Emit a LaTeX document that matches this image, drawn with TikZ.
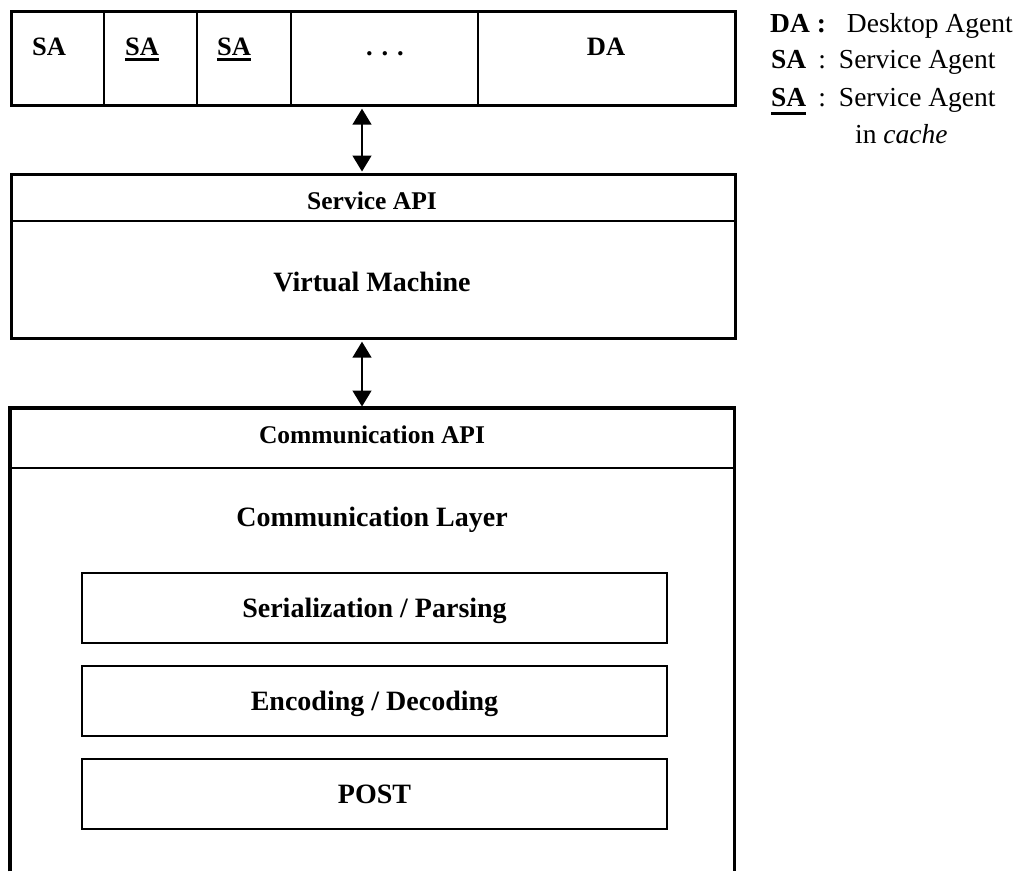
\documentclass[tikz,border=0pt]{standalone}
\usepackage{fontspec}
\setmainfont{Liberation Serif}
\usetikzlibrary{arrows.meta}
\newcommand\ulbox[3]{\setbox0\hbox{#1}\rlap{\rule[-#2]{\wd0}{#3}}\box0}
\begin{document}
\begin{tikzpicture}[x=1pt,y=-1pt,
  outerbox/.style={draw, line width=3.2pt, inner sep=0pt, anchor=north west},
  subbox/.style={draw, line width=2pt, inner sep=0pt, anchor=north west, minimum width=585pt, minimum height=70pt},
  thinline/.style={line width=1.4pt},
  dblarrow/.style={line width=1.5pt, {Triangle[length=16pt,width=19pt]}-{Triangle[length=16pt,width=19pt]}, shorten <=1.5pt, shorten >=1.5pt},
  barlabel/.style={font=\bfseries\fontsize{26.5}{30}\selectfont, inner sep=0pt},
  smalllabel/.style={font=\bfseries\fontsize{25.5}{30}\selectfont, inner sep=0pt, anchor=base},
  biglabel/.style={font=\bfseries\fontsize{28}{32}\selectfont, inner sep=0pt, anchor=base},
  sublabel/.style={font=\bfseries\fontsize{28}{32}\selectfont, text height=18.5pt, text depth=0pt},
  legend/.style={font=\fontsize{27.5}{32}\selectfont, inner sep=0pt, anchor=base west}]
\useasboundingbox (0,0) rectangle (1015,871);
\fill[white] (0,0) rectangle (1015,871);

% top bar
\node[outerbox, minimum width=724pt, minimum height=94pt] (bar) at (10,10) {};
\coordinate (d1) at (104,0);
\coordinate (d2) at (197,0);
\coordinate (d3) at (291,0);
\coordinate (d4) at (478,0);
\foreach \d in {d1,d2,d3,d4}
  \draw[thinline] (bar.north -| \d) -- (bar.south -| \d);
\node[barlabel, anchor=base west] (sa1) at (32,55) {SA};
\node[barlabel, anchor=base west] (sa2) at (125,55) {\ulbox{SA}{6pt}{3pt}};
\node[barlabel, anchor=base west] (sa3) at (217,55) {\ulbox{SA}{6pt}{3pt}};
\node[barlabel, anchor=base] (dots) at (385,55) {.\,\,.\,\,.};
\node[barlabel, anchor=base] (da) at (606,55) {DA};

% service box
\node[outerbox, minimum width=724pt, minimum height=164pt] (svc) at (10,173) {};
\coordinate (sdiv) at (0,221);
\draw[thinline] (svc.west |- sdiv) -- (svc.east |- sdiv);
\node[smalllabel] (sapi) at (372,209) {Service API};
\node[biglabel] (vm) at (372,291) {Virtual Machine};

% communication box (open at the bottom)
\node[inner sep=0pt, anchor=north west, minimum width=724pt, minimum height=463pt] (comm) at (10,408) {};
\draw[line width=3.2pt] (comm.south west) -- (comm.north west) -- (comm.north east) -- (comm.south east);
\coordinate (cdiv) at (0,468);
\draw[thinline] (comm.west |- cdiv) -- (comm.east |- cdiv);
\node[smalllabel] (capi) at (372,443) {Communication API};
\node[biglabel] (cl) at (372,526) {Communication Layer};

\node[subbox] (ser) at (81,572) {};
\node[sublabel] (serl) at (ser.center) {Serialization / Parsing};
\node[subbox] (enc) at (81,665) {};
\node[sublabel] (encl) at (enc.center) {Encoding / Decoding};
\node[subbox] (post) at (81,758) {};
\node[sublabel] (postl) at (post.center) {POST};

% arrows
\coordinate (ax) at (362,0);
\draw[dblarrow] (bar.south -| ax) -- (svc.north -| ax);
\draw[dblarrow] (svc.south -| ax) -- (comm.north -| ax);

% legend
\node[legend] (l1) at (770,32) {\textbf{DA :}\hspace{21pt}Desktop Agent};
\node[legend] (l2) at (771,68) {\textbf{SA}\hspace{12pt}:\hspace{13pt}Service Agent};
\node[legend] (l3) at (771,106) {\textbf{\ulbox{SA}{9pt}{2.7pt}}\hspace{12pt}:\hspace{13pt}Service Agent};
\node[legend] (l4) at (855,143) {in \textit{cache}};
\end{tikzpicture}
\end{document}
